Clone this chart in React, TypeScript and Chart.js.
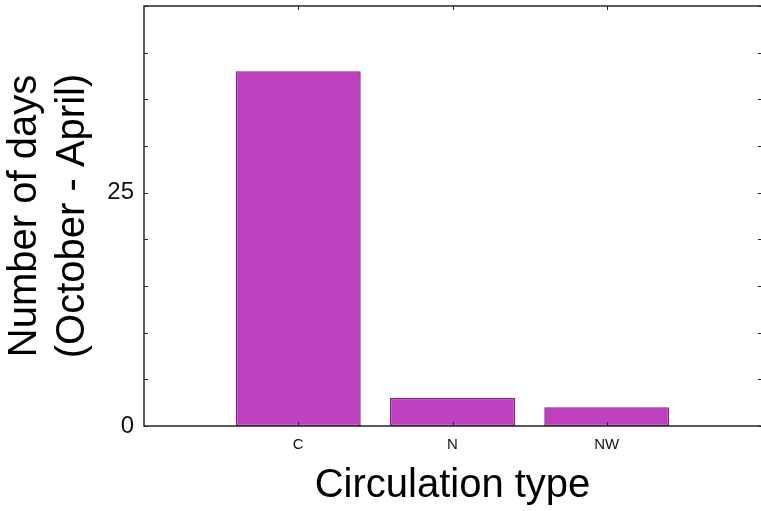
import React, { useEffect, useRef } from "react";
import { Chart, registerables } from "chart.js";

Chart.register(...registerables);

const categories: string[] = ["C", "N", "NW"];
const days: number[] = [38, 3, 2];
const yLabeledTicks: number[] = [0, 25];
const yMax = 45;
const yMinorStep = 5;

const frameColor = "#262626";

const framePlugin = {
  id: "frameTicks",
  afterDatasetsDraw(chart: any) {
    const { ctx, chartArea, scales } = chart;
    const { left, right, top, bottom } = chartArea;
    const xs = scales.x;
    const ys = scales.y;
    ctx.save();
    ctx.strokeStyle = frameColor;
    ctx.lineWidth = 1.5;
    ctx.beginPath();
    ctx.moveTo(right, top);
    ctx.lineTo(left, top);
    ctx.lineTo(left, bottom);
    ctx.lineTo(right, bottom);
    ctx.stroke();
    ctx.lineWidth = 1;
    ctx.beginPath();
    for (let v = 0; v <= yMax; v += yMinorStep) {
      const py = Math.round(ys.getPixelForValue(v)) + 0.5;
      ctx.moveTo(left, py);
      ctx.lineTo(left + 4, py);
      ctx.moveTo(right, py);
      ctx.lineTo(right - 3, py);
    }
    categories.forEach((_, i) => {
      const px = Math.round(xs.getPixelForValue(i + 1)) + 0.5;
      ctx.moveTo(px, bottom);
      ctx.lineTo(px, bottom - 4);
      ctx.moveTo(px, top);
      ctx.lineTo(px, top + 4);
    });
    ctx.stroke();
    ctx.restore();
  },
};

export default function App() {
  const ref = useRef<HTMLCanvasElement | null>(null);
  useEffect(() => {
    document.body.style.margin = "0";
    const canvas = ref.current;
    if (!canvas) return;
    const chart = new Chart(canvas, {
      type: "bar",
      data: {
        datasets: [
          {
            data: days.map((d, i) => ({ x: i + 1, y: d })),
            backgroundColor: "rgb(191,64,191)",
            borderColor: "rgb(140,28,140)",
            borderWidth: 1.5,
            borderSkipped: false,
            barPercentage: 1,
            categoryPercentage: 0.81,
          },
        ],
      },
      plugins: [framePlugin],
      options: {
        animation: false,
        responsive: false,
        devicePixelRatio: 1,
        layout: { padding: { top: 6, left: 0, right: 0, bottom: 0 } },
        plugins: {
          legend: { display: false },
          tooltip: { enabled: false },
        },
        scales: {
          x: {
            type: "linear",
            min: 0,
            max: categories.length + 1,
            offset: false,
            grid: { display: false, drawTicks: false, offset: false },
            border: { display: false },
            afterBuildTicks: (scale: any) => {
              scale.ticks = categories.map((_, i) => ({ value: i + 1 }));
            },
            afterFit: (scale: any) => {
              scale.height = 85;
              scale.paddingLeft = 0;
              scale.paddingRight = 0;
            },
            ticks: {
              padding: 10,
              color: "#111",
              font: { family: "'Liberation Sans', Arial, sans-serif", size: 15 },
              callback: (v: any) => categories[Number(v) - 1] ?? "",
              maxRotation: 0,
              autoSkip: false,
            },
            title: {
              display: true,
              text: "Circulation type",
              color: "#000",
              font: { family: "'Liberation Sans', Arial, sans-serif", size: 40, lineHeight: 1.2 },
              padding: { top: 0, bottom: 1 },
            },
          },
          y: {
            type: "linear",
            min: 0,
            max: yMax,
            grid: { display: false, drawTicks: false },
            border: { display: false },
            afterBuildTicks: (scale: any) => {
              scale.ticks = yLabeledTicks.map((v) => ({ value: v }));
            },
            afterFit: (scale: any) => {
              scale.width = 144;
              scale.paddingTop = 0;
              scale.paddingBottom = 0;
            },
            ticks: {
              padding: 10,
              color: "#111",
              font: { family: "'Liberation Sans', Arial, sans-serif", size: 24 },
            },
            title: {
              display: true,
              text: ["Number of days", "(October - April)"],
              color: "#000",
              font: { family: "'Liberation Sans', Arial, sans-serif", size: 40, lineHeight: 1.2 },
              padding: { top: 1, bottom: 0 },
            },
          },
        },
      } as any,
    });
    return () => chart.destroy();
  }, []);
  return (
    <div style={{ position: "fixed", left: 0, top: 0, width: 761, height: 511, background: "#fff" }}>
      <canvas ref={ref} width={761} height={511} style={{ display: "block" }} />
    </div>
  );
}
